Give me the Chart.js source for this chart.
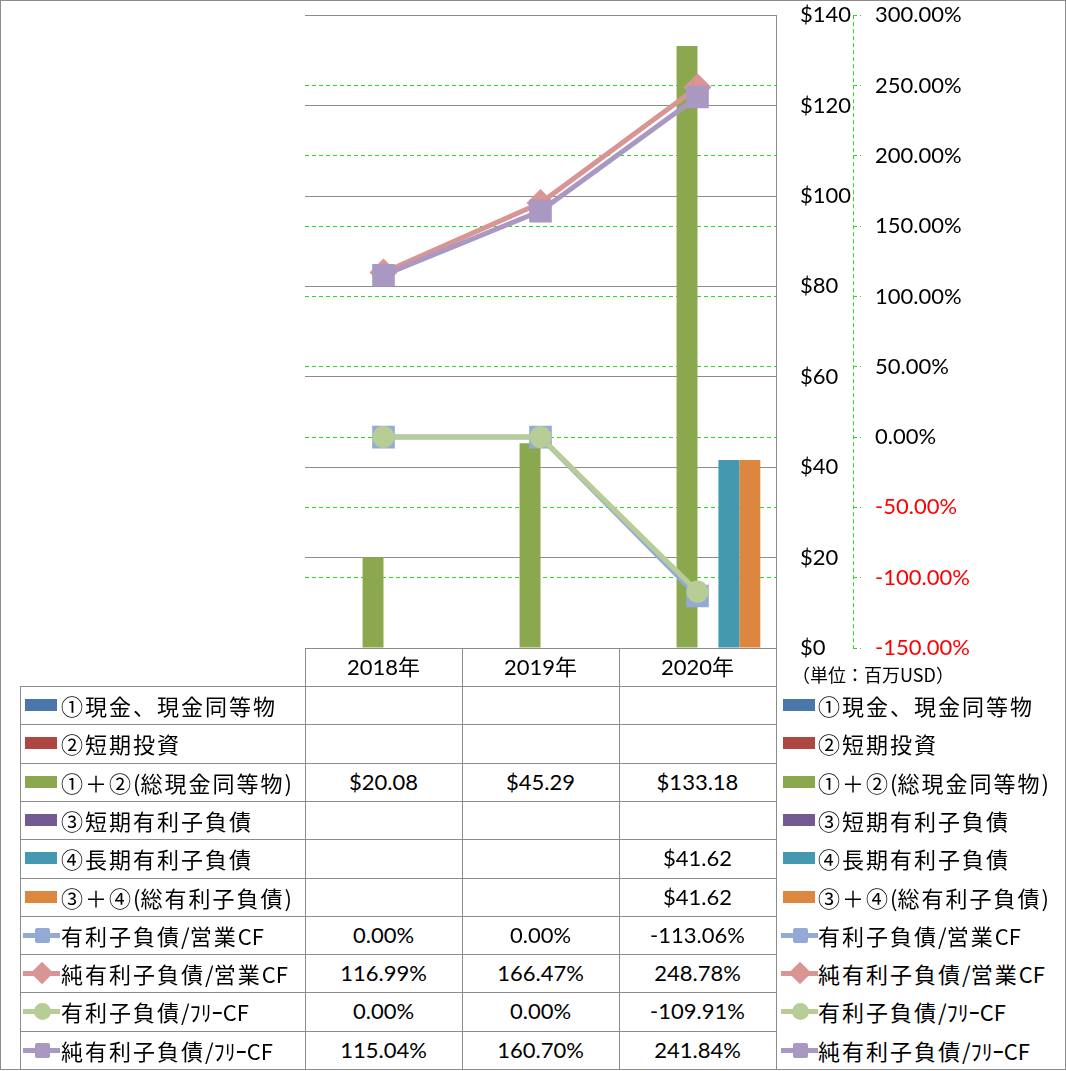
<!DOCTYPE html>
<html>
<head>
<meta charset="utf-8">
<script src="https://cdn.jsdelivr.net/npm/chart.js@4"></script>
<style>
  body { margin: 0; background: #fff; }
  #wrap { position: relative; width: 1066px; height: 1071px; overflow: hidden; font-family: Lato, "Noto Sans CJK JP", sans-serif; }
  #frame { position: absolute; left: 0; top: 0; width: 1064px; height: 1068px; border: 1px solid #8c8c8c; }
  #box { position: absolute; left: 0; top: -22px; width: 1066px; height: 722px; }
  .ln { position: absolute; background: #8c8c8c; }
  .cell { position: absolute; height: 38px; line-height: 38px; text-align: center; font-size: 22px; color: #000; }
  .leg { position: absolute; height: 38px; line-height: 38px; font-family: "Noto Sans CJK JP", sans-serif; font-size: 22px; letter-spacing: 2px; white-space: nowrap; color: #000; }
  .leg .a { letter-spacing: 0; }
  .unit { position: absolute; left: 792px; top: 663px; font-family: "Noto Sans CJK JP", sans-serif; font-size: 18px; line-height: 22px; white-space: nowrap; }
</style>
</head>
<body>
<div id="wrap">
  <div id="frame"></div>
  <div id="box"><canvas id="myChart"></canvas></div>
  <div class="unit">（単位：百万USD）</div>
</div>
<script>
let categories = ["2018年", "2019年", "2020年"];

let cash = [null, null, null];
let shortInvest = [null, null, null];
let totalCash = [20.08, 45.29, 133.18];
let shortDebt = [null, null, null];
let longDebt = [null, null, 41.62];
let totalDebt = [null, null, 41.62];

let debtOpCF = [0, 0, -113.06];
let netDebtOpCF = [116.99, 166.47, 248.78];
let debtFreeCF = [0, 0, -109.91];
let netDebtFreeCF = [115.04, 160.70, 241.84];

let dollarAxis = { min: 0, max: 140, step: 20 };
let pctAxis = { min: -150, max: 300, step: 50 };

let barSeries = [
  { label: "①現金、現金同等物", data: cash, color: "#4a76aa" },
  { label: "②短期投資", data: shortInvest, color: "#ae4642" },
  { label: "①＋②(総現金同等物)", data: totalCash, color: "#8ca84e" },
  { label: "③短期有利子負債", data: shortDebt, color: "#735a93" },
  { label: "④長期有利子負債", data: longDebt, color: "#4499b0" },
  { label: "③＋④(総有利子負債)", data: totalDebt, color: "#dd8640" }
];
let lineSeries = [
  { label: "有利子負債/営業CF", data: debtOpCF, color: "#93aad6", marker: "rect", radius: 16, order: 4 },
  { label: "純有利子負債/営業CF", data: netDebtOpCF, color: "#d79594", marker: "rectRot", radius: 14, order: 3 },
  { label: "有利子負債/ﾌﾘｰCF", data: debtFreeCF, color: "#b8cd96", marker: "circle", radius: 11, order: 2 },
  { label: "純有利子負債/ﾌﾘｰCF", data: netDebtFreeCF, color: "#a898c2", marker: "rect", radius: 16, order: 1 }
];

let axisFont = { family: "Lato", size: 22 };
let green = "#22dd22";
let gray = "#8c8c8c";

let datasets = [];
barSeries.forEach(function (s, i) {
  datasets.push({
    type: "bar",
    label: s.label,
    data: s.data,
    backgroundColor: s.color,
    yAxisID: "y",
    order: 10 + i,
    barPercentage: 1,
    categoryPercentage: 0.8
  });
});
lineSeries.forEach(function (s) {
  datasets.push({
    type: "line",
    label: s.label,
    data: s.data,
    borderColor: s.color,
    backgroundColor: s.color,
    borderWidth: 5,
    pointStyle: s.marker,
    pointRadius: s.radius,
    pointBorderWidth: 0,
    pointBackgroundColor: s.color,
    tension: 0,
    yAxisID: "y1",
    order: s.order
  });
});

// dashed axis line for the percent scale
let dashedAxis = {
  id: "dashedAxis",
  afterDraw: function (c) {
    let s = c.scales.y1;
    let g = c.ctx;
    g.save();
    g.strokeStyle = green;
    g.lineWidth = 1;
    g.setLineDash([4, 3]);
    g.beginPath();
    g.moveTo(Math.round(s.left) + 0.5, s.top);
    g.lineTo(Math.round(s.left) + 0.5, s.bottom);
    g.stroke();
    g.restore();
  }
};

let ctx = document.getElementById("myChart").getContext("2d");
let chart = new Chart(ctx, {
  type: "bar",
  data: { labels: categories, datasets: datasets },
  plugins: [dashedAxis],
  options: {
    responsive: true,
    maintainAspectRatio: false,
    animation: false,
    events: [],
    layout: { padding: { left: 305, top: 15, right: 0, bottom: 52 } },
    plugins: { legend: { display: false }, tooltip: { enabled: false } },
    scales: {
      x: { display: false },
      y: {
        position: "right",
        weight: 0,
        min: dollarAxis.min,
        max: dollarAxis.max,
        ticks: { stepSize: dollarAxis.step, padding: 24, color: "#000", font: axisFont,
          callback: function (v) { return "$" + v; } },
        grid: { color: gray, drawTicks: false },
        border: { display: true, color: gray },
        afterFit: function (s) { s.width = 77; }
      },
      y1: {
        position: "right",
        weight: 1,
        min: pctAxis.min,
        max: pctAxis.max,
        ticks: { stepSize: pctAxis.step, padding: 14, font: axisFont,
          color: function (c) { return c.tick && c.tick.value < 0 ? "#ff0000" : "#000"; },
          callback: function (v) { return v.toFixed(2) + "%"; } },
        grid: {
          color: function (c) {
            if (c.tick && (c.tick.value === pctAxis.max || c.tick.value === pctAxis.min)) return "rgba(0,0,0,0)";
            return green;
          },
          tickColor: green,
          tickLength: 8,
          tickBorderDash: [4, 3]
        },
        border: { display: false, dash: [4, 3] },
        afterFit: function (s) { s.width = 213; }
      }
    }
  }
});

// data table below the plot
let wrap = document.getElementById("wrap");
let colX = [305, 462, 619, 776];
let headTop = 648;
let rowTop = 686;
let rowH = 38.3;

function line(x, y, w, h) {
  let d = document.createElement("div");
  d.className = "ln";
  d.style.left = x + "px"; d.style.top = y + "px";
  d.style.width = w + "px"; d.style.height = h + "px";
  wrap.appendChild(d);
}

function marker(s, x, y, isBar) {
  if (isBar) {
    let b = document.createElement("div");
    b.style.cssText = "position:absolute;left:" + x + "px;top:" + (y - 6) + "px;width:32px;height:12px;background:" + s.color;
    wrap.appendChild(b);
    return;
  }
  let l = document.createElement("div");
  l.style.cssText = "position:absolute;left:" + (x - 2) + "px;top:" + (y - 2.5) + "px;width:37px;height:5px;background:" + s.color;
  wrap.appendChild(l);
  let m = document.createElement("div");
  let cx = x + 17;
  if (s.marker === "circle") {
    m.style.cssText = "position:absolute;left:" + (cx - 8.5) + "px;top:" + (y - 8.5) + "px;width:17px;height:17px;border-radius:50%;background:" + s.color;
  } else if (s.marker === "rectRot") {
    m.style.cssText = "position:absolute;left:" + (cx - 8) + "px;top:" + (y - 8) + "px;width:16px;height:16px;transform:rotate(45deg);background:" + s.color;
  } else {
    m.style.cssText = "position:absolute;left:" + (cx - 7.5) + "px;top:" + (y - 7.5) + "px;width:15px;height:15px;border-radius:2px;background:" + s.color;
  }
  wrap.appendChild(m);
}

function addText(cls, text, x, y, w) {
  let d = document.createElement("div");
  d.className = cls;
  d.style.left = x + "px"; d.style.top = y + "px";
  if (w) d.style.width = w + "px";
  if (cls === "leg") {
    // latin and half-width runs keep tight spacing
    text.split(/([A-Za-z()\/\uff61-\uff9f]+)/).forEach(function (part, k) {
      if (!part) return;
      let sp = document.createElement("span");
      if (k % 2 === 1) sp.className = "a";
      sp.textContent = part;
      d.appendChild(sp);
    });
  } else {
    d.textContent = text;
  }
  wrap.appendChild(d);
}

// header
line(305, headTop, 472, 1);
categories.forEach(function (c, i) {
  addText("cell", c, colX[i], headTop, colX[i + 1] - colX[i]);
});

let rows = [];
barSeries.forEach(function (s) { rows.push({ s: s, bar: true }); });
lineSeries.forEach(function (s) { rows.push({ s: s, bar: false }); });

rows.forEach(function (r, i) {
  let top = Math.round(rowTop + i * rowH);
  let mid = top + 19;
  line(20, top, 757, 1);
  marker(r.s, 25, mid, r.bar);
  addText("leg", r.s.label, 61, top);
  marker(r.s, 783, mid, r.bar);
  addText("leg", r.s.label, 818, top);
  r.s.data.forEach(function (v, j) {
    if (v === null) return;
    let t = r.bar ? "$" + v.toFixed(2) : v.toFixed(2) + "%";
    addText("cell", t, colX[j], top, colX[j + 1] - colX[j]);
  });
});
let bottom = Math.round(rowTop + rows.length * rowH);
line(20, bottom, 757, 1);
line(20, rowTop, 1, bottom - rowTop);
colX.forEach(function (x) { line(x, headTop, 1, bottom - headTop); });
</script>
</body>
</html>
